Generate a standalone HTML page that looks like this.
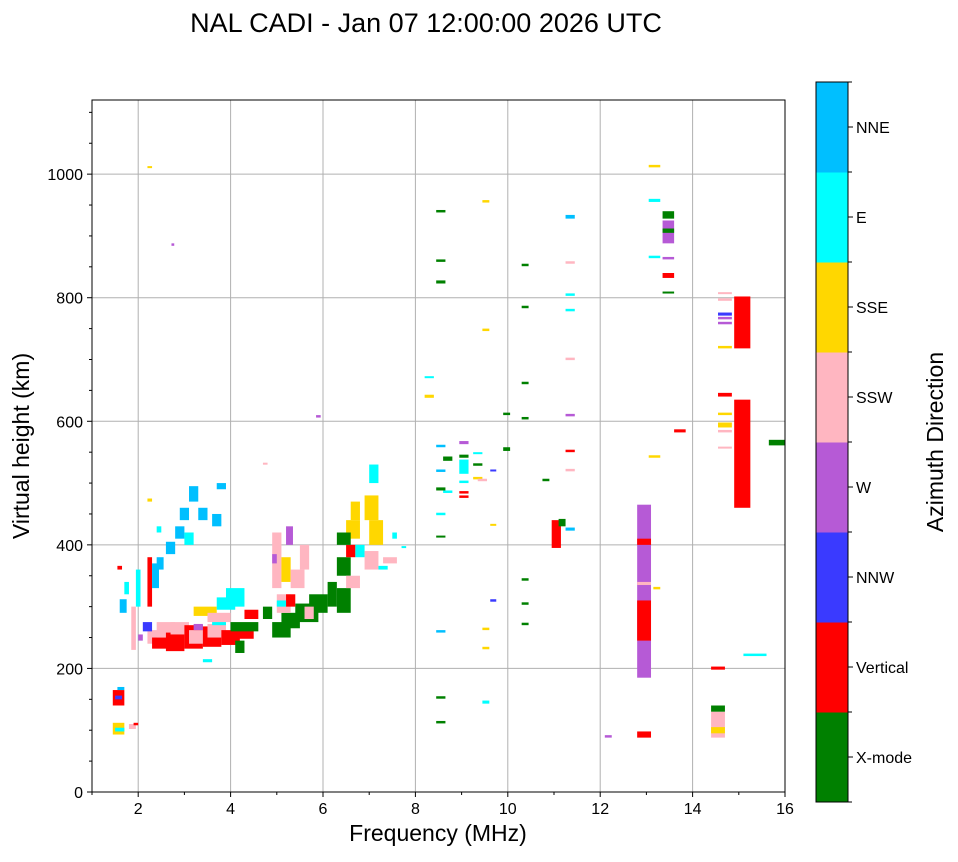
<!DOCTYPE html>
<html><head><meta charset="utf-8"><style>
html,body{margin:0;padding:0;background:#fff;}
svg text{font-family:"Liberation Sans",sans-serif;fill:#000;}
</style></head><body>
<svg id="chart" width="958" height="857" viewBox="0 0 958 857" xmlns="http://www.w3.org/2000/svg">
<text x="426" y="32" font-size="27" text-anchor="middle">NAL CADI - Jan 07 12:00:00 2026 UTC</text>
<g id="grid"></g>
<g id="marks"></g>
<rect x="92" y="100" width="693" height="692" fill="none" stroke="#000" stroke-width="1"/>
<g id="axes"></g>
<text x="438" y="841" font-size="23" text-anchor="middle">Frequency (MHz)</text>
<text transform="translate(29,446) rotate(-90)" font-size="23" text-anchor="middle">Virtual height (km)</text>
<g id="cbar"></g>
<text transform="translate(943,442) rotate(-90)" font-size="23" text-anchor="middle">Azimuth Direction</text>
</svg>
<script>
const directions = ["X-mode","Vertical","NNW","W","SSW","SSE","E","NNE"];
const dirColors = ["#008000","#ff0000","#3a3aff","#b65ad6","#ffb6c1","#ffd700","#00ffff","#00bfff"];
const xTicks = [2,4,6,8,10,12,14,16];
const yTicks = [0,200,400,600,800,1000];
// echoes: [f1, f2, h1, h2, directionIndex]
const echoes = [
[1.45,1.7,93,112,5],[1.5,1.7,98,104,6],[1.45,1.7,140,165,1],[1.5,1.65,150,156,2],[1.55,1.7,165,170,7],
[1.6,1.75,290,312,7],[1.7,1.8,320,340,6],[1.8,1.95,102,110,4],[1.9,2.0,108,112,1],[1.55,1.65,360,366,1],
[1.85,1.95,230,300,4],[1.95,2.05,300,360,6],[2.0,2.1,245,255,3],
[2.2,2.6,240,262,4],[2.3,2.7,232,250,1],[2.4,2.8,250,275,4],[2.6,3.0,228,258,1],[2.7,3.1,255,275,4],
[3.0,3.4,232,270,1],[3.1,3.5,240,262,4],[3.4,3.8,235,268,1],[3.5,3.9,250,272,4],[3.2,3.4,262,272,3],
[3.8,4.2,238,262,1],[3.6,3.9,270,285,6],[3.2,3.7,285,300,5],[3.7,4.1,295,315,6],[3.9,4.3,300,330,6],
[3.5,4.0,275,290,4],[4.1,4.5,248,262,1],[4.0,4.6,260,275,0],[4.3,4.6,280,295,1],[4.1,4.3,225,245,0],
[2.2,2.3,300,380,1],[2.3,2.45,330,370,7],[2.4,2.55,360,380,7],[2.6,2.8,385,405,7],[2.8,3.0,410,430,7],
[2.9,3.1,440,460,7],[3.1,3.3,470,495,7],[3.3,3.5,440,460,7],[3.6,3.8,430,450,7],[3.7,3.9,490,500,7],
[3.0,3.2,400,420,6],[2.4,2.5,420,430,6],[2.1,2.3,260,275,2],[2.2,2.3,470,475,5],[3.4,3.6,210,215,6],
[4.9,5.3,250,275,0],[5.1,5.5,265,290,0],[5.4,5.9,275,305,0],[5.7,6.1,290,320,0],[6.1,6.3,300,340,0],
[6.3,6.6,290,330,0],[6.3,6.6,350,380,0],[6.5,6.7,380,400,1],[4.7,4.9,280,300,0],[5.0,5.3,290,320,4],
[4.9,5.1,330,420,4],[5.1,5.3,340,380,5],[5.3,5.6,330,360,4],[5.2,5.4,300,320,1],[5.5,5.7,360,400,4],
[4.9,5.0,370,385,3],[5.2,5.35,400,430,3],[5.0,5.2,300,310,6],[5.6,5.8,280,300,4],
[6.5,6.8,410,440,5],[6.6,6.8,440,470,5],[6.7,6.9,380,400,6],[6.9,7.2,440,480,5],[6.9,7.2,360,390,4],
[7.0,7.3,400,440,5],[7.0,7.2,500,530,6],[6.3,6.6,400,420,0],[6.5,6.8,330,350,4],[7.3,7.6,370,380,4],
[7.5,7.6,410,420,6],[7.7,7.8,395,398,6],[7.2,7.4,360,366,6],
[2.2,2.3,1010,1013,5],[2.72,2.78,884,888,3],[5.85,5.95,606,610,3],[4.7,4.8,530,533,4],
[8.2,8.4,670,673,6],[8.2,8.4,638,643,5],
[8.45,8.65,938,942,0],[8.45,8.65,858,862,0],[8.45,8.65,823,828,0],[8.45,8.65,558,562,7],[8.45,8.65,518,522,7],
[8.45,8.65,488,493,0],[8.45,8.65,448,452,6],[8.45,8.65,412,415,0],[8.45,8.65,258,262,7],[8.45,8.65,151,155,0],[8.45,8.65,111,115,0],
[8.6,8.8,536,543,0],[8.6,8.8,484,488,6],
[8.95,9.15,563,568,3],[8.95,9.15,541,546,0],[8.95,9.15,515,538,6],[8.95,9.15,500,504,6],[8.95,9.15,483,487,1],[8.95,9.15,476,480,1],
[9.25,9.45,547,550,6],[9.25,9.45,528,532,0],[9.25,9.45,506,510,5],[9.35,9.55,503,507,4],
[9.45,9.6,954,958,5],[9.45,9.6,746,750,5],[9.45,9.6,262,266,5],[9.45,9.6,231,235,5],[9.45,9.6,143,148,6],
[9.62,9.75,519,522,2],[9.62,9.75,431,434,5],[9.62,9.75,308,312,2],
[9.9,10.05,610,614,0],[9.9,10.05,552,558,0],
[10.3,10.45,851,855,0],[10.3,10.45,783,787,0],[10.3,10.45,660,664,0],[10.3,10.45,603,607,0],[10.3,10.45,342,346,0],[10.3,10.45,303,307,0],[10.3,10.45,270,274,0],
[10.75,10.9,503,507,0],
[10.95,11.15,395,440,1],[11.1,11.25,430,442,0],
[11.25,11.45,928,934,7],[11.25,11.45,855,859,4],[11.25,11.45,803,807,6],[11.25,11.45,778,782,6],[11.25,11.45,699,703,4],[11.25,11.45,608,612,3],[11.25,11.45,550,554,1],[11.25,11.45,519,523,4],[11.25,11.45,423,428,7],
[12.1,12.25,88,92,3],
[12.8,13.1,185,465,3],[12.8,13.1,245,310,1],[12.8,13.1,400,410,1],[12.8,13.1,335,340,4],[12.8,13.1,88,98,1],
[13.05,13.3,1011,1015,5],[13.05,13.3,955,960,6],[13.05,13.3,864,868,6],[13.05,13.3,541,545,5],[13.15,13.3,328,332,5],
[13.35,13.6,928,940,0],[13.35,13.6,888,925,3],[13.35,13.6,905,912,0],[13.35,13.6,862,866,3],[13.35,13.6,832,840,1],[13.35,13.6,808,810,0],
[13.6,13.85,582,587,1],
[14.4,14.7,88,130,4],[14.4,14.7,95,105,5],[14.4,14.7,130,140,0],[14.4,14.7,198,203,1],
[14.55,14.85,806,809,4],[14.55,14.85,795,799,4],[14.55,14.85,771,776,2],[14.55,14.85,765,769,3],[14.55,14.85,757,761,3],[14.55,14.85,718,722,5],[14.55,14.85,640,646,1],[14.55,14.85,610,614,5],[14.55,14.85,590,598,5],[14.55,14.85,582,586,4],[14.55,14.85,556,559,4],
[14.9,15.25,460,635,1],[14.9,15.25,718,802,1],[15.1,15.6,220,224,6],[15.65,16,561,570,0]
];
const NS="http://www.w3.org/2000/svg";
const X0=92,X1=785,Y0=792,Y1=100,FMIN=1,FMAX=16,HMIN=0,HMAX=1120;
function xs(f){return X0+(f-FMIN)/(FMAX-FMIN)*(X1-X0);}
function ys(h){return Y0-(h-HMIN)/(HMAX-HMIN)*(Y0-Y1);}
function mk(tag,attrs,parent){const e=document.createElementNS(NS,tag);for(const k in attrs)e.setAttribute(k,attrs[k]);parent.appendChild(e);return e;}
const grid=document.getElementById('grid'),axes=document.getElementById('axes'),marks=document.getElementById('marks'),cbar=document.getElementById('cbar');
xTicks.forEach(t=>{const x=xs(t);
 const g=mk('line',{x1:x,x2:x,y1:Y1,y2:Y0,stroke:'#b0b0b0','stroke-width':1},grid);
 
 
 mk('line',{x1:x,x2:x,y1:Y0,y2:Y0+5,stroke:'#000'},axes);
 const tx=mk('text',{x:x,y:Y0+22,'font-size':16,'text-anchor':'middle'},axes);tx.textContent=t;
 
 
});
for(let f=1;f<16;f+=2){const x=xs(f);mk('line',{x1:x,x2:x,y1:Y0,y2:Y0+3,stroke:'#000'},axes);}
yTicks.forEach(t=>{const y=ys(t);
 const g=mk('line',{x1:X0,x2:X1,y1:y,y2:y,stroke:'#b0b0b0','stroke-width':1},grid);
 
 
 mk('line',{x1:X0-5,x2:X0,y1:y,y2:y,stroke:'#000'},axes);
 const tx=mk('text',{x:X0-9,y:y+6,'font-size':16,'text-anchor':'end'},axes);tx.textContent=t;
 
 
});
for(let h=50;h<1120;h+=50){if(h%200===0)continue;const y=ys(h);mk('line',{x1:X0-3,x2:X0,y1:y,y2:y,stroke:'#000'},axes);}
echoes.forEach(e=>{
 const x=xs(e[0]),w=Math.max(2,xs(e[1])-x),yTop=ys(e[3]),hh=Math.max(2,ys(e[2])-yTop);
 const r=mk('rect',{x:x,y:yTop,width:w,height:hh,fill:dirColors[e[4]]},marks);
 
 
});
const CX=816,CW=32,CT=82,CB=802,seg=(CB-CT)/directions.length;
directions.forEach((d,i)=>{
 const y=CB-(i+1)*seg;
 const r=mk('rect',{x:CX,y:y,width:CW,height:seg+0.5,fill:dirColors[i]},cbar);
 
 
 mk('line',{x1:CX+CW,x2:CX+CW+5,y1:y+seg/2,y2:y+seg/2,stroke:'#000'},cbar);
 const t=mk('text',{x:CX+CW+8,y:y+seg/2+6,'font-size':16},cbar);t.textContent=d;
 
 
});
for(let i=0;i<=directions.length;i++){const y=CT+i*seg;mk('line',{x1:CX+CW,x2:CX+CW+4,y1:y,y2:y,stroke:'#000'},cbar);}
mk('rect',{x:CX,y:CT,width:CW,height:CB-CT,fill:'none',stroke:'#000'},cbar);
</script>
</body></html>
